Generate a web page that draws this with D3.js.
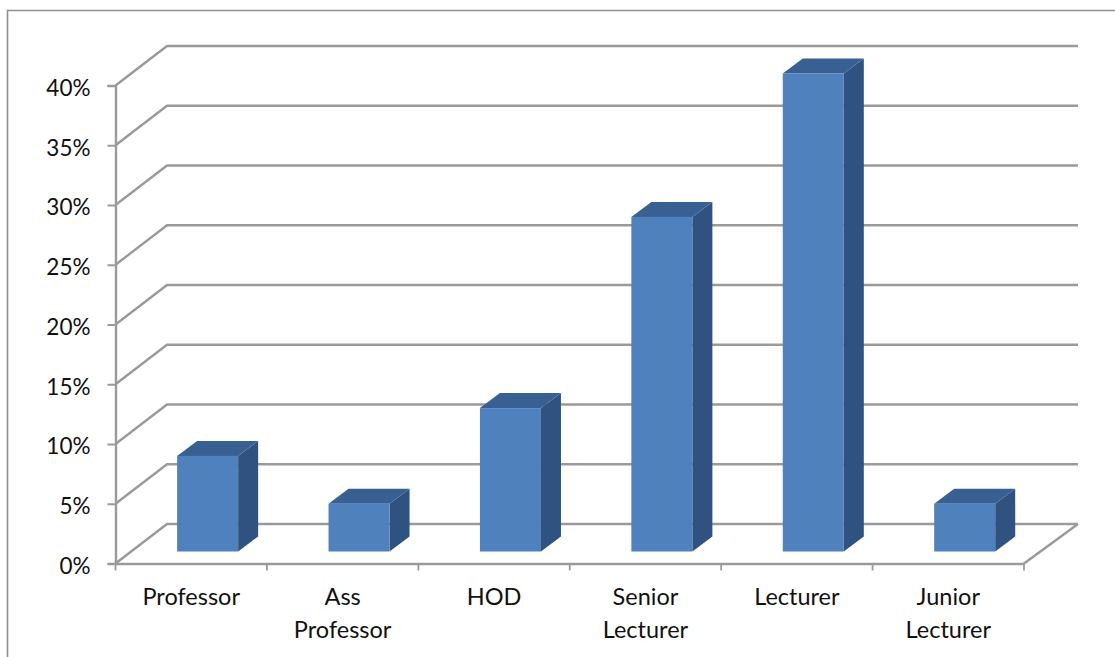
<!DOCTYPE html>
<html><head><meta charset="utf-8">
<script src="https://cdn.jsdelivr.net/npm/d3@7"></script>
<style>html,body{margin:0;padding:0;background:#fff}svg{display:block}text{font-family:Lato,"Open Sans",sans-serif;fill:#111}</style>
</head><body>
<svg id="c" width="1115" height="657"></svg>
<script>
const categories = ["Professor","Ass Professor","HOD","Senior Lecturer","Lecturer","Junior Lecturer"];
const categoryLines = [["Professor"],["Ass","Professor"],["HOD"],["Senior","Lecturer"],["Lecturer"],["Junior","Lecturer"]];
const values = [8,4,12,28,40,4];
const yTicks = [0,5,10,15,20,25,30,35,40];

const svg = d3.select("#c");
const grey = "#9a9a9a";
const x = d3.scaleBand().domain(categories).range([115.5,1024]);
const y = d3.scaleLinear().domain([0,40]).range([563.5,85.5]);
const floor = {dx:51.5, dy:-39.5};
const barShift = {dx:17.7, dy:-12};
const depth = {dx:20, dy:-15};
const barW = x.bandwidth()*0.403, barGap = x.bandwidth()*0.29;

// outer frame
svg.append("path").attr("d","M7.5,657V10.5H1115").attr("fill","none").attr("stroke","#8f8f8f").attr("stroke-width",1.6);

// walls and gridlines
const walls = svg.append("g").attr("fill","none").attr("stroke",grey).attr("stroke-width",2.4);
yTicks.forEach(t=>{
  walls.append("path").attr("d",`M${x.range()[0]},${y(t)}L${x.range()[0]+floor.dx},${y(t)+floor.dy}H1078`);
});
walls.append("path").attr("d",`M${x.range()[1]},${y(0)}L1078,${y(0)+floor.dy}`);

// axes
const yAxis = d3.axisLeft(y).tickValues(yTicks).tickSize(8).tickPadding(17).tickFormat(d=>d+"%");
const gy = svg.append("g").attr("transform","translate(115.5,0)").call(yAxis);
const xAxis = d3.axisBottom(x).tickSize(0).tickFormat("");
const gx = svg.append("g").attr("transform",`translate(0,${y(0)})`).call(xAxis);
gx.selectAll(".tick").remove();
const tickEdges = d3.range(categories.length+1).map(i=>x.range()[0]+i*x.step());
gx.selectAll("line.edge").data(tickEdges).join("line").attr("class","edge")
  .attr("x1",d=>d).attr("x2",d=>d).attr("y1",0).attr("y2",7).attr("stroke",grey).attr("stroke-width",1.8);
[gy,gx].forEach(g=>{
  g.selectAll(".domain").attr("stroke",grey).attr("stroke-width",2.4);
  g.selectAll(".tick line").attr("stroke",grey).attr("stroke-width",2);
});
gy.selectAll("text").attr("font-size",22.5).attr("dy","0.44em").style("font-family","Lato").style("font-weight",400);

// x labels
const labels = svg.append("g").attr("text-anchor","middle").attr("font-size",23.5);
categoryLines.forEach((lines,i)=>{
  lines.forEach((l,j)=>{
    labels.append("text").attr("x",x(categories[i])+x.bandwidth()/2).attr("y",605+j*33).text(l);
  });
});

// bars
const bars = svg.append("g").selectAll("g").data(categories.map((c,i)=>({c,v:values[i]}))).join("g");
const bx = d=>x(d.c)+barGap+barShift.dx;
const base = y(0)+barShift.dy;
const top_ = d=>base-(y(0)-y(d.v));
bars.append("path").attr("fill","#2f5280").attr("d",d=>{
  const r=bx(d)+barW;
  return `M${r},${top_(d)}l${depth.dx},${depth.dy}V${base+depth.dy}l${-depth.dx},${-depth.dy}Z`;
});
bars.append("path").attr("fill","#386093").attr("d",d=>{
  return `M${bx(d)},${top_(d)}l${depth.dx},${depth.dy}h${barW}l${-depth.dx},${-depth.dy}Z`;
});
bars.append("rect").attr("fill","#4f81bd").attr("x",bx).attr("y",top_).attr("width",barW).attr("height",d=>base-top_(d));
</script>
</body></html>
